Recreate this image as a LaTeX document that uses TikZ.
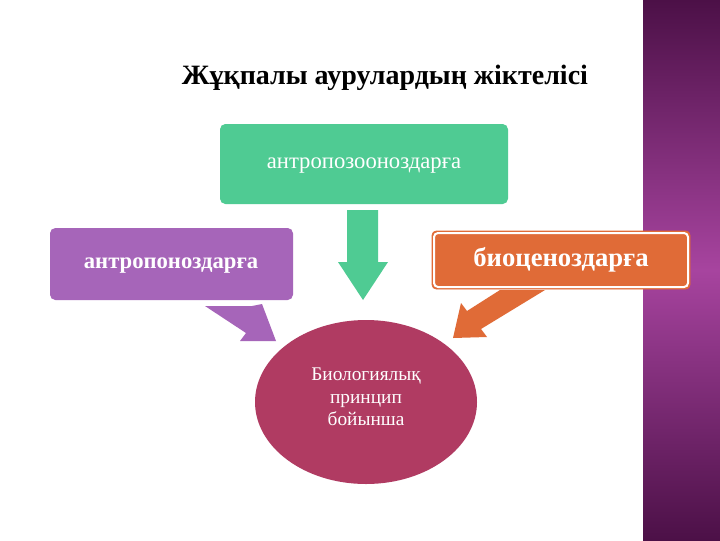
\documentclass[tikz,border=0pt]{standalone}
\usepackage{fontspec}
\setmainfont{Liberation Serif}
\begin{document}
\begin{tikzpicture}[x=0.75pt,y=-0.75pt,
  lbl/.style={text=white,font=\fontsize{17}{20}\selectfont}]
\definecolor{gr}{HTML}{4FCB93}
\definecolor{pu}{HTML}{A665B9}
\definecolor{orn}{HTML}{E06B37}
\definecolor{ell}{HTML}{B03B62}
\definecolor{bd}{HTML}{4C1047}
\definecolor{bm}{HTML}{A7449F}
\useasboundingbox (0,0) rectangle (720,540);
\fill[white] (0,0) rectangle (720,540);
\shade[top color=bd,bottom color=bm] (643,0) rectangle (720,270);
\shade[top color=bm,bottom color=bd] (643,270) rectangle (720,540);
\node[font=\bfseries\fontsize{21}{25}\selectfont] (title) at (385,78) {Жұқпалы аурулардың жіктелісі};
% boxes
\fill[gr,rounded corners=4pt] (220,124) rectangle (508,204);
\node[lbl] (g) at (364,166) {антропозоонοздарға};
\fill[pu,rounded corners=4pt] (50,228) rectangle (293,300);
\node[lbl,font=\bfseries\fontsize{17}{20}\selectfont] (p) at (171,266) {антропоноздарға};
\draw[orn,fill=orn,rounded corners=3pt] (432,231) rectangle (690,289);
\draw[white,line width=1.5pt,rounded corners=3pt] (434,233) rectangle (688,287);
\node[lbl,font=\bfseries\fontsize{20}{24}\selectfont] (o) at (561,260) {биоценоздарға};
% ellipse
\fill[ell] (366,402) ellipse [x radius=111, y radius=82];
\node[lbl,align=center,font=\fontsize{14.5}{17}\selectfont] (e) at (366,397) {Биологиялық\\принцип\\бойынша};
% arrows
\fill[gr] (347,210) -- (378,210) -- (378,262) -- (388,262) -- (363,300) -- (338,262) -- (347,262) -- cycle;
\fill[pu] (205,306) -- (252,306) -- (262,304) -- (276,341) -- (240,341) -- (246,333) -- cycle;
\fill[orn] (545,290) -- (500,290) -- (467,311) -- (461,303) -- (453,338) -- (487,337) -- (481,329) -- cycle;
\end{tikzpicture}
\end{document}
